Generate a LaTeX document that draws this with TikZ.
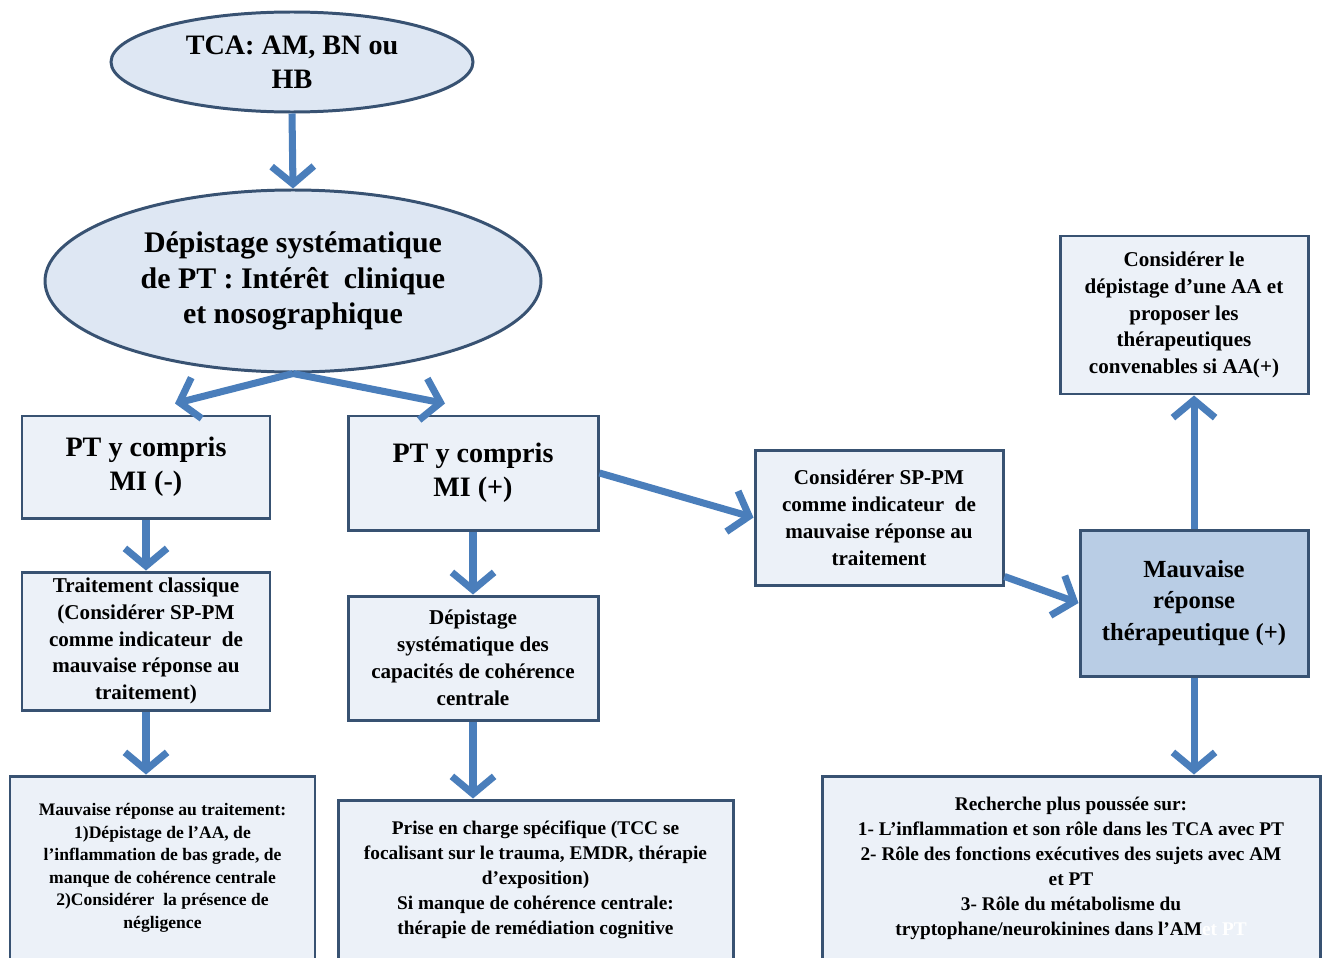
\documentclass[tikz,border=0pt]{standalone}
\usepackage{fontspec}
\setmainfont{Liberation Serif}
\usetikzlibrary{shapes.geometric,arrows.meta}
\definecolor{arrblue}{RGB}{74,126,187}
\definecolor{edgeblue}{RGB}{56,82,114}
\definecolor{paleblue}{RGB}{236,241,248}
\definecolor{ellblue}{RGB}{222,231,243}
\definecolor{midblue}{RGB}{185,205,229}
\begin{document}
\begin{tikzpicture}[
  box/.style={draw=edgeblue, line width=1.7pt, fill=paleblue, align=center, inner sep=0pt},
  ell/.style={ellipse, draw=edgeblue, line width=1.7pt, fill=ellblue, align=center, inner sep=0pt, font=\bfseries},
  arr/.style={draw=arrblue, line width=4pt, -{Straight Barb[length=10pt,width=24pt]}}]
\useasboundingbox (0,0) rectangle (26.48,-19.14);
\node [ell, minimum width=7.24cm, minimum height=2cm, font=\fontsize{16}{19.3}\selectfont\bfseries] (tca) at (5.84,-1.24) {TCA: AM, BN ou\\HB};
\node [ell, minimum width=9.92cm, minimum height=3.64cm, font=\fontsize{17}{20.4}\selectfont\bfseries] (dep) at (5.86,-5.62) {Dépistage systématique\\de PT : Intérêt\enspace clinique\\et nosographique};
\node [box, minimum width=4.96cm, minimum height=2.04cm, font=\fontsize{16}{19.3}\selectfont\bfseries] (mimoins) at (2.92,-9.34) {PT y compris\\MI (-)};
\node [box, minimum width=5cm, minimum height=2.28cm, font=\fontsize{16}{19.3}\selectfont\bfseries] (miplus) at (9.46,-9.46) {PT y compris\\MI (+)};
\node [box, minimum width=4.96cm, minimum height=2.7cm, font=\fontsize{12}{15.3}\selectfont\bfseries] (sppm) at (17.58,-10.35) {Considérer SP-PM\\comme indicateur\enspace de\\mauvaise réponse au\\traitement};
\node [box, minimum width=4.96cm, minimum height=3.16cm, font=\fontsize{12}{15.3}\selectfont\bfseries] (aa) at (23.68,-6.3) {Considérer le\\dépistage d'une AA et\\proposer les\\thérapeutiques\\convenables si AA(+)};
\node [box, fill=midblue, minimum width=4.56cm, minimum height=2.92cm, font=\fontsize{14}{18}\selectfont\bfseries] (mauv) at (23.88,-12.06) {Mauvaise\\réponse\\thérapeutique (+)};
\node [box, minimum width=4.96cm, minimum height=2.76cm, font=\fontsize{12}{15.3}\selectfont\bfseries] (classique) at (2.92,-12.82) {Traitement classique\\(Considérer SP-PM\\comme indicateur\enspace de\\mauvaise réponse au\\traitement)};
\node [box, minimum width=5cm, minimum height=2.48cm, font=\fontsize{12}{15.3}\selectfont\bfseries] (coherence) at (9.46,-13.16) {Dépistage\\systématique des\\capacités de cohérence\\centrale};
\node [box, minimum width=6.1cm, minimum height=3.68cm, font=\fontsize{10}{12.8}\selectfont\bfseries] (negl) at (3.25,-17.36) {Mauvaise réponse au traitement:\\1)Dépistage de l'AA, de\\l'inflammation de bas grade, de\\manque de cohérence centrale\\2)Considérer\enspace la présence de\\négligence};
\node [box, minimum width=7.9cm, minimum height=3.2cm, font=\fontsize{11}{14.2}\selectfont\bfseries] (prise) at (10.71,-17.6) {Prise en charge spécifique (TCC se\\focalisant sur le trauma, EMDR, thérapie\\d'exposition)\\Si manque de cohérence centrale:\\thérapie de remédiation cognitive};
\node [box, minimum width=9.96cm, minimum height=3.68cm, font=\fontsize{11}{14.2}\selectfont\bfseries] (recherche) at (21.42,-17.36) {Recherche plus poussée sur:\\1- L'inflammation et son rôle dans les TCA avec PT\\2- Rôle des fonctions exécutives des sujets avec AM\\et PT\\3- Rôle du métabolisme du\\tryptophane/neurokinines dans l'AM\textcolor{white}{ et PT}};
\draw [arr] (tca.south) -- (dep.north);
\draw [arr] (dep.south) -- ([xshift=0.58cm,yshift=0.22cm]mimoins.north);
\draw [arr] (dep.south) -- ([xshift=-0.56cm,yshift=0.22cm]miplus.north);
\draw [arr] (mimoins.south) -- (classique.north);
\draw [arr] (classique.south) -- (classique.south |- negl.north);
\draw [arr] (miplus.south) -- (coherence.north);
\draw [arr] (coherence.south) -- (coherence.south |- prise.north);
\draw [arr] (miplus.east) -- (sppm.west);
\draw [arr] ([yshift=0.2cm]sppm.south east) -- (mauv.west);
\draw [arr] (mauv.north) -- (mauv.north |- aa.south);
\draw [arr] (mauv.south) -- (mauv.south |- recherche.north);
\end{tikzpicture}
\end{document}
